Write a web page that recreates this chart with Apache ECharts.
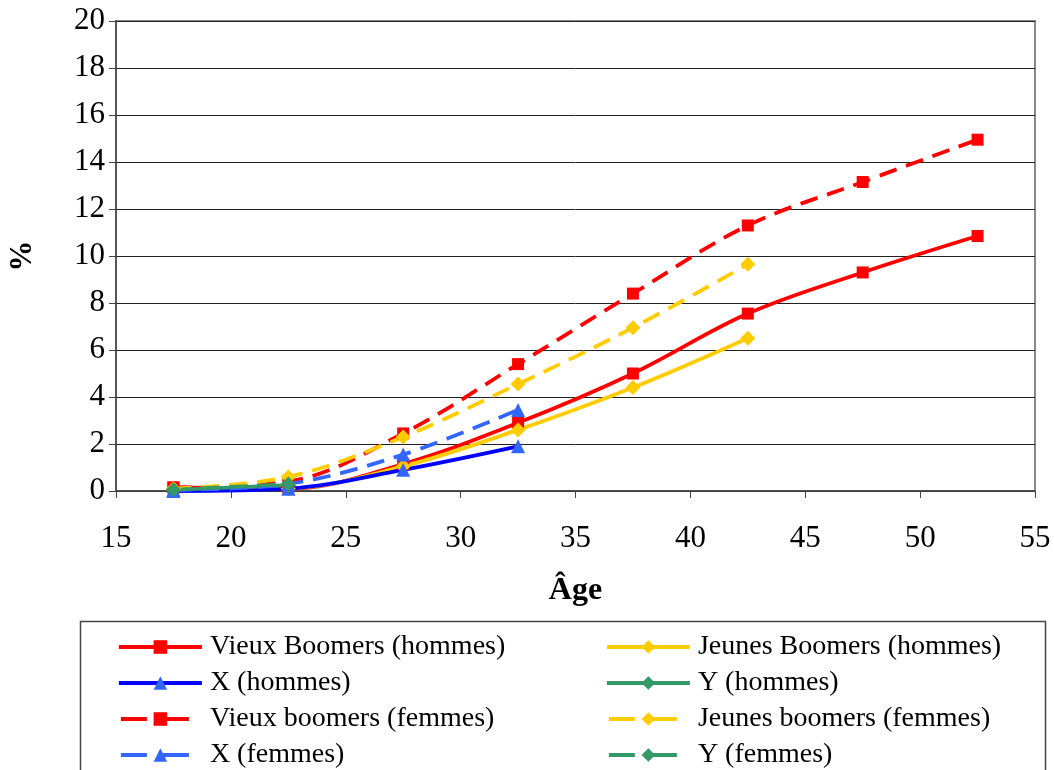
<!DOCTYPE html>
<html>
<head>
<meta charset="utf-8">
<script src="https://cdn.jsdelivr.net/npm/echarts@6/dist/echarts.min.js"></script>
<style>
  html, body { margin: 0; padding: 0; background: #fff; }
  #chart { width: 1054px; height: 770px; }
</style>
</head>
<body>
<div id="chart"></div>
<script>
// âges (milieu des tranches)
var ages = [17.5, 22.5, 27.5, 32.5, 37.5, 42.5, 47.5, 52.5];

var vieuxH  = [0.15, 0.1, 1.15, 2.9, 5.0, 7.55, 9.3, 10.85];
var jeunesH = [0.05, 0.1, 1.05, 2.6, 4.4, 6.5];
var xH      = [0.0, 0.1, 0.9, 1.9];
var yH      = [0.05, 0.25];
var vieuxF  = [0.15, 0.4, 2.45, 5.4, 8.4, 11.3, 13.15, 14.95];
var jeunesF = [0.1, 0.6, 2.3, 4.55, 6.95, 9.65];
var xF      = [0.05, 0.3, 1.55, 3.45];
var yF      = [0.05, 0.3];

var names = ['Vieux Boomers (hommes)', 'Jeunes Boomers (hommes)', 'X (hommes)', 'Y (hommes)',
             'Vieux boomers (femmes)', 'Jeunes boomers (femmes)', 'X (femmes)', 'Y (femmes)'];

var font = '"Liberation Serif", "Times New Roman", serif';
var dash = [18, 10];

function pairs(vals) {
	return vals.map(function(v, i) { return [ages[i], v]; });
}

function line(name, vals, color, markColor, symbol, size, dashed) {
	return {
		name: name,
		type: 'line',
		data: pairs(vals),
		smooth: 0.35,
		symbol: symbol,
		symbolSize: size,
		itemStyle: { color: markColor },
		lineStyle: { color: color, width: 3.8, type: dashed ? dash : 'solid' },
		emphasis: { disabled: true }
	};
}

// entrée de légende : ligne pleine ou tirets
function legendItem(name, color, dashed) {
	return {
		name: name,
		lineStyle: { color: color, width: 3.8, type: dashed ? [26, 16] : 'solid', dashOffset: dashed ? -2 : 0 }
	};
}

function legendCol(left, items) {
	return {
		orient: 'vertical', left: left, top: 633, height: 200, padding: 0, itemGap: 8,
		itemWidth: 83, itemHeight: 17,
		textStyle: { fontFamily: font, fontSize: 28, color: '#000', padding: [0, 0, 0, 3] },
		data: items
	};
}

var chart = echarts.init(document.getElementById('chart'));
var option = {
	animation: false,
	textStyle: { fontFamily: font },
	grid: {
		left: 116, right: 19, top: 21, bottom: 279,
		outerBoundsMode: 'none', containLabel: false,
		show: true, borderColor: '#888', borderWidth: 2
	},
	xAxis: {
		type: 'value', min: 15, max: 55, interval: 5,
		name: 'Âge', nameLocation: 'middle', nameGap: 84,
		nameTextStyle: { fontFamily: font, fontSize: 32, fontWeight: 'bold', color: '#000' },
		axisLine: { lineStyle: { color: '#444', width: 1.5 } },
		axisTick: { show: true, length: 7, lineStyle: { color: '#444' } },
		axisLabel: { fontFamily: font, fontSize: 31, color: '#000', margin: 32 },
		splitLine: { show: false }
	},
	yAxis: {
		type: 'value', min: 0, max: 20, interval: 2,
		name: '%', nameLocation: 'middle', nameGap: 78, nameRotate: 90,
		nameTextStyle: { fontFamily: font, fontSize: 31, fontWeight: 'bold', color: '#000' },
		axisLine: { show: true, lineStyle: { color: '#444', width: 1.5 } },
		axisTick: { show: true, length: 7, lineStyle: { color: '#444' } },
		axisLabel: { fontFamily: font, fontSize: 31, color: '#000', margin: 11 },
		splitLine: { lineStyle: { color: '#222', width: 1 } }
	},
	legend: [
		legendCol(117, [legendItem(names[0], '#FF0000', false), legendItem(names[2], '#0000FF', false),
		                legendItem(names[4], '#FF0000', true),  legendItem(names[6], '#3366FF', true)]),
		legendCol(605, [legendItem(names[1], '#FFCC00', false), legendItem(names[3], '#339966', false),
		                legendItem(names[5], '#FFCC00', true),  legendItem(names[7], '#339966', true)])
	],
	graphic: [{
		type: 'rect',
		shape: { x: 80.5, y: 621.5, width: 965, height: 160 },
		style: { fill: 'none', stroke: '#444', lineWidth: 1.5 },
		silent: true
	}],
	series: [
		line(names[0], vieuxH,  '#FF0000', '#FF0000', 'rect', 12, false),
		line(names[1], jeunesH, '#FFCC00', '#FFCC00', 'diamond', 15, false),
		line(names[2], xH,      '#0000FF', '#3366FF', 'triangle', 14, false),
		line(names[3], yH,      '#339966', '#339966', 'diamond', 15, false),
		line(names[4], vieuxF,  '#FF0000', '#FF0000', 'rect', 12, true),
		line(names[5], jeunesF, '#FFCC00', '#FFCC00', 'diamond', 15, true),
		line(names[6], xF,      '#3366FF', '#3366FF', 'triangle', 14, true),
		line(names[7], yF,      '#339966', '#339966', 'diamond', 15, true)
	]
};
chart.setOption(option);
</script>
</body>
</html>
